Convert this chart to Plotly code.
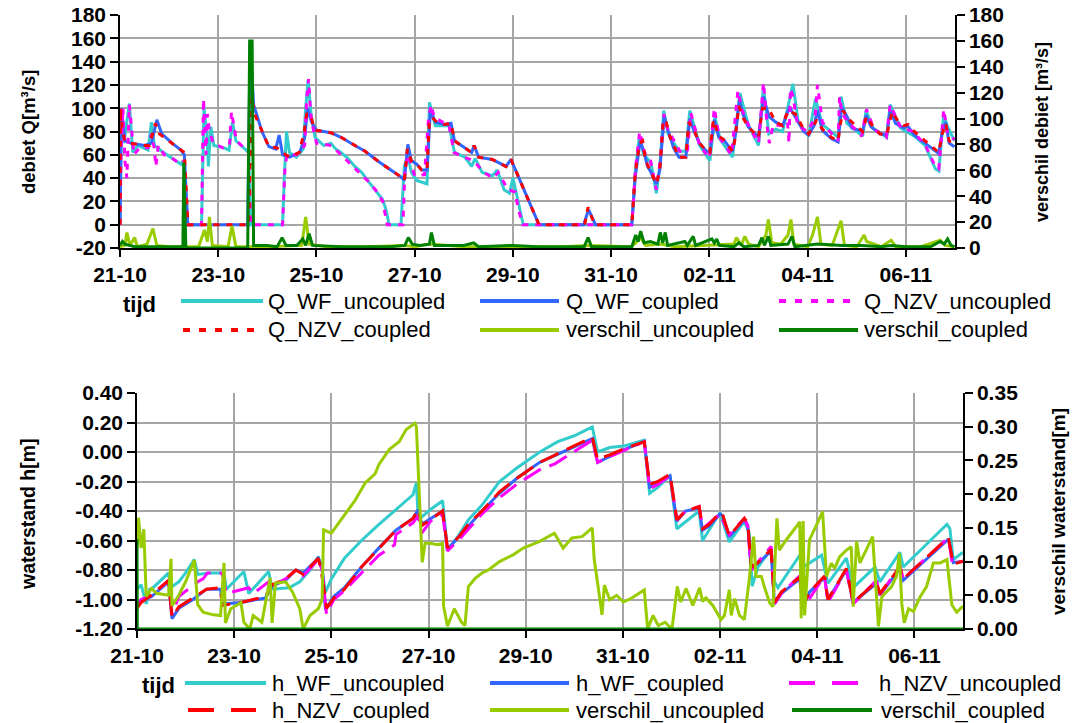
import plotly.graph_objects as go
import pandas as pd

# ---------------- data (day offset from 21-10, value) ----------------
START = "2008-10-21"
END_DAYS = 17

# top panel: discharge Q [m3/s] (left axis) and difference (right axis)
q_wf_uncoupled = [(0,0),(0.03,90),(0.08,70),(0.19,104),(0.26,62),(0.36,68),(0.57,64),(0.64,88),(0.7,68),(0.85,63),(1.06,57),(1.24,52),(1.29,55),(1.35,20),(1.38,0),(1.66,0),(1.71,100),(1.77,78),(1.8,50),(1.85,84),(1.91,68),(2.12,66),(2.22,64),(2.29,88),(2.36,72),(2.54,65),(2.62,62),(2.66,0),(3.31,0),(3.35,45),(3.39,80),(3.45,62),(3.59,58),(3.73,65),(3.78,100),(3.83,124),(3.89,95),(3.97,75),(4.15,68),(4.29,70),(4.39,65),(4.5,62),(4.64,57),(4.78,50),(4.92,45),(5.06,37),(5.2,30),(5.34,22),(5.41,14),(5.48,0),(5.72,0),(5.79,50),(5.86,60),(5.93,45),(6.04,38),(6.25,35),(6.3,105),(6.42,85),(6.7,85),(6.81,62),(7.02,58),(7.16,50),(7.23,57),(7.37,45),(7.58,42),(7.68,47),(7.82,30),(7.93,27),(8.0,40),(8.11,20),(8.21,0),(10.42,0),(10.49,45),(10.57,74),(10.67,60),(10.81,53),(10.92,27),(10.99,50),(11.07,98),(11.16,78),(11.38,63),(11.52,63),(11.6,98),(11.8,68),(12.01,55),(12.11,93),(12.22,73),(12.47,58),(12.62,113),(12.79,86),(13.0,68),(13.1,118),(13.21,78),(13.35,82),(13.49,80),(13.7,121),(13.81,88),(14.02,76),(14.16,108),(14.3,86),(14.62,75),(14.68,110),(14.8,87),(15.12,76),(15.19,98),(15.33,83),(15.61,75),(15.68,103),(15.89,83),(16.17,76),(16.39,68),(16.6,48),(16.67,46),(16.77,95),(16.84,85),(16.99,72)]

q_wf_coupled = [(0,0),(0.03,100),(0.1,72),(0.22,70),(0.5,68),(0.64,70),(0.75,90),(0.85,78),(1.06,70),(1.24,64),(1.31,60),(1.35,30),(1.38,0),(2.6,0),(2.65,157),(2.72,103),(2.89,80),(3.03,67),(3.17,65),(3.24,77),(3.31,60),(3.45,58),(3.66,62),(3.76,75),(3.82,100),(3.9,88),(4.0,81),(4.29,79),(4.5,75),(4.78,68),(4.99,63),(5.27,54),(5.55,46),(5.72,41),(5.79,38),(5.86,69),(5.93,55),(6.04,52),(6.14,47),(6.25,47),(6.32,98),(6.42,88),(6.6,86),(6.74,87),(6.81,72),(6.98,67),(7.16,62),(7.21,68),(7.3,58),(7.58,56),(7.86,50),(7.96,56),(8.07,45),(8.25,27),(8.39,14),(8.53,0),(9.44,0),(9.54,13),(9.68,0),(10.42,0),(10.49,41),(10.59,72),(10.67,62),(10.74,50),(10.81,45),(10.92,35),(10.99,47),(11.08,93),(11.16,81),(11.27,66),(11.38,58),(11.52,58),(11.6,91),(11.69,80),(11.8,70),(11.94,63),(12.01,62),(12.1,90),(12.19,75),(12.29,73),(12.47,63),(12.54,80),(12.61,107),(12.68,95),(12.79,84),(13.0,75),(13.1,110),(13.21,93),(13.35,88),(13.49,85),(13.63,101),(13.74,93),(13.92,80),(14.02,77),(14.13,85),(14.2,98),(14.3,81),(14.48,74),(14.62,71),(14.69,101),(14.8,93),(14.9,83),(15.12,80),(15.19,94),(15.29,84),(15.47,78),(15.61,77),(15.68,98),(15.79,87),(15.96,83),(16.03,85),(16.17,77),(16.39,70),(16.6,63),(16.67,61),(16.74,80),(16.81,88),(16.88,70),(16.99,67)]

q_nzv_uncoupled = [(0,0),(0.02,60),(0.06,100),(0.1,55),(0.14,40),(0.19,103),(0.22,90),(0.28,60),(0.4,66),(0.57,66),(0.64,78),(0.7,65),(0.73,50),(0.78,68),(0.9,60),(1.06,57),(1.24,52),(1.3,55),(1.36,15),(1.38,0),(1.66,0),(1.7,108),(1.75,60),(1.78,95),(1.82,80),(1.9,70),(2.1,66),(2.23,68),(2.27,97),(2.33,82),(2.37,72),(2.55,65),(2.62,62),(2.66,0),(3.31,0),(3.36,50),(3.4,60),(3.6,60),(3.76,68),(3.8,107),(3.84,125),(3.88,96),(3.92,85),(4.0,70),(4.3,68),(4.5,60),(4.8,48),(5.06,37),(5.2,30),(5.35,20),(5.44,0),(5.76,0),(5.8,45),(5.86,60),(6.0,42),(6.2,43),(6.28,90),(6.33,103),(6.4,92),(6.7,85),(6.8,62),(7.0,58),(7.2,55),(7.4,45),(7.6,40),(7.7,45),(7.9,30),(8.05,28),(8.1,15),(8.2,0),(10.42,0),(10.5,50),(10.58,80),(10.68,62),(10.8,55),(10.92,30),(11.0,55),(11.07,95),(11.15,82),(11.4,63),(11.55,62),(11.62,96),(11.8,68),(12.0,57),(12.1,100),(12.2,75),(12.45,60),(12.58,115),(12.67,98),(12.8,85),(13.0,70),(13.1,122),(13.18,83),(13.22,70),(13.3,86),(13.45,85),(13.58,95),(13.62,70),(13.65,117),(13.7,110),(13.8,85),(14.0,80),(14.15,92),(14.2,120),(14.3,88),(14.45,80),(14.62,72),(14.65,110),(14.7,95),(14.85,87),(15.1,76),(15.2,99),(15.35,82),(15.6,75),(15.68,103),(15.9,83),(16.15,80),(16.4,68),(16.6,50),(16.67,48),(16.77,99),(16.85,78),(16.99,73)]

q_nzv_coupled = [(0,0),(0.01,100),(0.05,80),(0.1,72),(0.22,70),(0.5,68),(0.6,68),(0.72,87),(0.8,78),(1.06,70),(1.24,64),(1.31,62),(1.36,20),(1.38,0),(2.62,0),(2.68,110),(2.74,95),(2.9,80),(3.03,67),(3.2,66),(3.3,62),(3.45,58),(3.65,62),(3.75,80),(3.8,95),(3.88,95),(3.95,82),(4.0,81),(4.29,79),(4.5,75),(4.78,68),(4.99,63),(5.27,54),(5.55,46),(5.72,41),(5.79,38),(5.85,65),(5.93,55),(6.04,52),(6.14,47),(6.25,47),(6.3,90),(6.36,92),(6.45,88),(6.6,86),(6.74,87),(6.81,72),(6.98,67),(7.16,62),(7.21,68),(7.3,58),(7.58,56),(7.86,50),(7.96,56),(8.07,45),(8.25,27),(8.39,14),(8.53,0),(9.46,0),(9.53,15),(9.66,0),(10.42,0),(10.49,45),(10.58,70),(10.64,72),(10.7,55),(10.81,45),(10.92,35),(10.99,47),(11.06,90),(11.12,88),(11.2,75),(11.38,58),(11.52,58),(11.58,88),(11.7,80),(11.8,70),(11.94,63),(12.01,62),(12.08,90),(12.19,76),(12.29,73),(12.47,63),(12.52,73),(12.6,102),(12.68,92),(12.79,84),(13.0,75),(13.08,100),(13.2,100),(13.35,88),(13.49,85),(13.6,98),(13.75,95),(13.92,82),(14.02,78),(14.13,85),(14.18,90),(14.3,82),(14.48,75),(14.62,72),(14.66,85),(14.72,98),(14.85,90),(15.12,80),(15.2,93),(15.3,86),(15.47,78),(15.61,77),(15.66,85),(15.72,97),(15.85,88),(15.96,85),(16.05,86),(16.17,80),(16.39,72),(16.6,65),(16.67,62),(16.74,78),(16.81,87),(16.88,72),(16.99,68)]

q_verschil_uncoupled = [(0,1),(0.1,2),(0.14,12),(0.2,2),(0.3,8),(0.35,1),(0.55,3),(0.67,15),(0.75,2),(1.0,1),(1.3,1),(1.6,1),(1.72,14),(1.78,5),(1.82,24),(1.88,2),(2.2,1),(2.28,17),(2.36,1),(2.7,1),(3.0,1),(3.7,2),(3.78,24),(3.85,3),(4.2,1),(5.0,1),(5.8,2),(6.0,1),(6.3,3),(7.0,1),(8.0,1),(9.0,1),(9.55,2),(10.4,1),(10.5,4),(10.6,8),(10.7,2),(11.0,3),(11.3,1),(12.0,2),(12.5,3),(12.55,8),(12.65,2),(12.72,9),(12.8,3),(13.0,1),(13.15,10),(13.2,22),(13.27,4),(13.45,3),(13.6,10),(13.66,22),(13.72,3),(14.0,1),(14.1,10),(14.2,24),(14.27,3),(14.5,2),(14.68,21),(14.75,2),(15.0,1),(15.15,10),(15.2,5),(15.5,1),(15.7,6),(15.8,1),(16.3,1),(16.7,6),(16.8,2),(16.99,1)]

q_verschil_coupled = [(0,2),(0.05,5),(0.1,3),(0.3,1),(0.7,1),(1.28,1),(1.3,66),(1.34,1),(1.36,0),(2.6,0),(2.64,160),(2.69,160),(2.72,2),(3.0,2),(3.2,1),(3.3,8),(3.38,2),(3.6,2),(3.72,7),(3.78,2),(3.85,11),(3.92,2),(4.5,1),(5.0,1),(5.5,1),(5.8,2),(5.87,8),(5.95,3),(6.1,2),(6.3,3),(6.34,12),(6.4,2),(7.0,2),(7.2,4),(7.3,1),(8.0,2),(8.5,1),(9.0,1),(9.45,1),(9.53,8),(9.6,1),(10.42,1),(10.5,10),(10.55,5),(10.6,13),(10.67,4),(10.8,5),(10.95,3),(11.0,12),(11.05,4),(11.1,12),(11.15,2),(11.5,5),(11.55,2),(11.67,9),(11.72,2),(12.05,7),(12.1,4),(12.15,7),(12.2,2),(12.5,1),(12.6,4),(12.7,1),(13.0,2),(13.07,8),(13.12,2),(13.2,9),(13.25,2),(13.6,3),(13.68,9),(13.74,1),(14.2,3),(14.7,2),(15.1,2),(15.5,1),(15.7,2),(16.0,1),(16.5,1),(16.7,5),(16.78,3),(16.85,7),(16.92,2),(16.99,1)]

# bottom panel: water level h [m] (left axis) and difference (right axis)
h_wf_uncoupled = [(0,-0.93),(0.085,-0.90),(0.19,-1.03),(0.26,-0.93),(0.3,-0.93),(0.65,-0.82),(0.69,-0.92),(0.86,-0.88),(1.0,-0.82),(1.18,-0.73),(1.25,-0.83),(1.5,-0.82),(1.79,-0.82),(1.84,-0.93),(2.2,-0.81),(2.3,-0.96),(2.71,-0.81),(2.78,-0.93),(3.13,-0.92),(3.35,-0.88),(3.56,-0.80),(3.73,-0.71),(3.81,-0.80),(3.88,-0.95),(4.0,-0.86),(4.27,-0.72),(4.62,-0.60),(4.98,-0.49),(5.33,-0.39),(5.68,-0.29),(5.75,-0.21),(5.79,-0.46),(6.04,-0.39),(6.29,-0.33),(6.39,-0.67),(6.61,-0.57),(6.82,-0.46),(7.1,-0.36),(7.46,-0.20),(7.81,-0.11),(8.29,0.0),(8.66,0.07),(9.0,0.11),(9.37,0.17),(9.48,0.0),(9.73,0.03),(10.01,0.04),(10.44,0.08),(10.55,-0.28),(10.72,-0.24),(10.97,-0.16),(11.11,-0.52),(11.57,-0.40),(11.64,-0.60),(12.0,-0.41),(12.19,-0.61),(12.5,-0.47),(12.6,-0.55),(12.66,-0.91),(12.78,-0.78),(13.05,-0.66),(13.12,-0.88),(13.19,-0.92),(13.64,-0.70),(13.71,-0.78),(14.09,-0.70),(14.22,-0.89),(14.6,-0.72),(14.74,-0.92),(15.19,-0.78),(15.29,-0.88),(15.7,-0.68),(15.77,-0.78),(16.67,-0.49),(16.73,-0.52),(16.8,-0.73),(17.0,-0.68)]

h_wf_coupled = [(0,-1.03),(0.085,-1.01),(0.3,-0.98),(0.65,-0.88),(0.72,-1.13),(0.86,-1.06),(1.15,-1.0),(1.43,-0.93),(1.72,-0.93),(1.75,-1.03),(2.14,-1.02),(2.64,-0.99),(2.78,-0.91),(3.06,-0.87),(3.27,-0.80),(3.42,-0.82),(3.73,-0.72),(3.81,-0.78),(3.88,-1.07),(4.05,-0.98),(4.27,-0.92),(4.62,-0.78),(4.98,-0.65),(5.33,-0.53),(5.68,-0.45),(5.79,-0.39),(5.86,-0.49),(6.04,-0.45),(6.29,-0.40),(6.39,-0.66),(6.61,-0.58),(6.82,-0.50),(7.1,-0.40),(7.46,-0.28),(7.81,-0.18),(8.29,-0.07),(9.37,0.09),(9.48,-0.07),(9.73,-0.03),(10.01,0.015),(10.44,0.07),(10.55,-0.24),(10.72,-0.21),(10.97,-0.16),(11.11,-0.47),(11.29,-0.40),(11.57,-0.38),(11.64,-0.53),(11.78,-0.50),(12.0,-0.42),(12.05,-0.43),(12.19,-0.575),(12.5,-0.46),(12.57,-0.50),(12.64,-0.79),(12.78,-0.755),(13.05,-0.67),(13.12,-1.03),(13.26,-0.96),(13.64,-0.86),(13.71,-1.05),(13.84,-0.95),(14.15,-0.85),(14.22,-1.00),(14.6,-0.80),(14.74,-1.02),(15.22,-0.89),(15.29,-0.97),(15.7,-0.79),(15.77,-0.87),(16.7,-0.59),(16.8,-0.75),(17.0,-0.74)]

h_nzv_uncoupled = [(0,-1.05),(0.085,-1.0),(0.3,-0.97),(0.65,-0.87),(0.72,-1.10),(0.86,-0.98),(1.25,-0.88),(1.36,-0.86),(1.45,-0.82),(1.72,-0.82),(1.76,-0.83),(1.84,-0.96),(2.3,-0.92),(2.39,-0.96),(2.71,-0.88),(2.78,-0.91),(3.06,-0.86),(3.27,-0.80),(3.42,-0.84),(3.73,-0.73),(3.81,-0.80),(3.9,-1.10),(4.05,-1.0),(4.27,-0.94),(4.62,-0.82),(4.98,-0.70),(5.3,-0.63),(5.33,-0.56),(5.68,-0.48),(5.79,-0.43),(5.86,-0.55),(6.04,-0.47),(6.29,-0.42),(6.39,-0.67),(6.61,-0.60),(6.82,-0.52),(7.1,-0.42),(7.46,-0.31),(7.81,-0.22),(8.29,-0.12),(8.6,-0.08),(9.37,0.08),(9.48,-0.07),(10.01,0.01),(10.44,0.07),(10.55,-0.25),(10.72,-0.22),(10.97,-0.16),(11.11,-0.46),(11.29,-0.40),(11.57,-0.37),(11.64,-0.52),(12.0,-0.42),(12.19,-0.56),(12.5,-0.45),(12.57,-0.50),(12.64,-0.80),(13.05,-0.64),(13.12,-1.03),(13.26,-0.96),(13.64,-0.84),(13.71,-1.06),(14.15,-0.84),(14.22,-1.02),(14.6,-0.80),(14.74,-1.03),(15.22,-0.87),(15.29,-0.97),(15.7,-0.77),(15.77,-0.86),(16.7,-0.58),(16.78,-0.76),(17.0,-0.74)]

h_nzv_coupled = [(0,-1.06),(0.085,-1.02),(0.3,-0.97),(0.65,-0.87),(0.72,-1.12),(0.86,-1.05),(1.15,-0.99),(1.43,-0.93),(1.72,-0.92),(1.75,-1.04),(2.14,-1.02),(2.64,-0.98),(2.78,-0.90),(3.06,-0.86),(3.27,-0.80),(3.42,-0.83),(3.73,-0.72),(3.78,-0.79),(3.86,-0.95),(3.9,-1.06),(4.05,-0.99),(4.27,-0.93),(4.62,-0.78),(4.98,-0.65),(5.33,-0.53),(5.68,-0.45),(5.79,-0.39),(5.86,-0.50),(6.04,-0.46),(6.29,-0.40),(6.39,-0.65),(6.61,-0.58),(6.82,-0.49),(7.1,-0.40),(7.46,-0.27),(7.81,-0.18),(8.29,-0.07),(9.37,0.10),(9.48,-0.05),(9.73,-0.02),(10.01,0.02),(10.44,0.07),(10.55,-0.22),(10.72,-0.20),(10.97,-0.15),(11.11,-0.46),(11.29,-0.40),(11.57,-0.37),(11.64,-0.52),(11.78,-0.49),(12.0,-0.41),(12.05,-0.42),(12.19,-0.57),(12.5,-0.45),(12.57,-0.48),(12.64,-0.78),(12.78,-0.75),(13.05,-0.66),(13.12,-1.02),(13.26,-0.95),(13.64,-0.85),(13.71,-1.04),(13.84,-0.95),(14.15,-0.84),(14.22,-1.00),(14.6,-0.79),(14.74,-1.02),(15.22,-0.88),(15.29,-0.96),(15.7,-0.78),(15.77,-0.86),(16.7,-0.58),(16.8,-0.76),(17.0,-0.74)]

h_verschil_uncoupled = [(0,0.12),(0.03,0.165),(0.085,0.12),(0.14,0.148),(0.19,0.048),(0.3,0.06),(0.4,0.053),(0.65,0.05),(0.7,0.104),(0.72,0.034),(0.86,0.05),(1.0,0.07),(1.18,0.102),(1.25,0.036),(1.36,0.025),(1.57,0.021),(1.72,0.02),(1.79,0.098),(1.82,0.009),(1.93,0.03),(2.14,0.039),(2.2,0.01),(2.32,0.0),(2.39,0.02),(2.57,0.01),(2.74,0.076),(2.78,0.009),(2.85,0.068),(3.06,0.07),(3.2,0.055),(3.35,0.03),(3.42,0.0),(3.56,0.02),(3.73,0.03),(3.81,0.044),(3.84,0.147),(4.0,0.142),(4.27,0.17),(4.48,0.19),(4.7,0.217),(4.9,0.23),(4.98,0.244),(5.19,0.266),(5.4,0.278),(5.54,0.296),(5.72,0.305),(5.75,0.30),(5.87,0.099),(5.93,0.127),(6.04,0.127),(6.18,0.125),(6.29,0.127),(6.31,0.034),(6.39,0.004),(6.53,0.03),(6.68,0.01),(6.75,0.005),(6.82,0.063),(6.96,0.075),(7.1,0.083),(7.24,0.088),(7.46,0.10),(7.74,0.11),(7.95,0.12),(8.29,0.13),(8.59,0.142),(8.77,0.12),(8.95,0.135),(9.16,0.137),(9.37,0.15),(9.41,0.103),(9.48,0.068),(9.57,0.021),(9.62,0.065),(9.73,0.0435),(9.87,0.05),(10.01,0.04),(10.16,0.045),(10.44,0.058),(10.51,0.0),(10.62,0.02),(10.73,0.005),(10.87,0.01),(11.01,0.0),(11.12,0.063),(11.19,0.04),(11.3,0.06),(11.44,0.035),(11.58,0.061),(11.64,0.041),(11.71,0.046),(11.85,0.035),(12.02,0.014),(12.09,0.02),(12.19,0.058),(12.23,0.02),(12.3,0.045),(12.4,0.02),(12.5,0.014),(12.6,0.073),(12.69,0.137),(12.74,0.078),(12.85,0.078),(12.91,0.063),(13.02,0.039),(13.09,0.033),(13.17,0.164),(13.22,0.117),(13.36,0.132),(13.54,0.149),(13.64,0.159),(13.67,0.016),(13.71,0.16),(13.74,0.02),(13.84,0.132),(13.95,0.149),(14.11,0.174),(14.19,0.078),(14.29,0.0975),(14.36,0.09),(14.46,0.107),(14.6,0.117),(14.7,0.122),(14.74,0.033),(14.81,0.13),(14.88,0.098),(15.05,0.122),(15.14,0.137),(15.21,0.059),(15.26,0.004),(15.33,0.048),(15.43,0.055),(15.53,0.063),(15.63,0.078),(15.69,0.112),(15.74,0.038),(15.79,0.009),(15.88,0.03),(15.98,0.026),(16.12,0.048),(16.25,0.063),(16.39,0.098),(16.53,0.098),(16.67,0.103),(16.77,0.036),(16.87,0.025),(16.94,0.03),(17.0,0.034)]

h_verschil_coupled = [(0,0.133),(0.005,0.0),(17.0,0.0)]

# axis tick labels
q_left_ticks = [-20, 0, 20, 40, 60, 80, 100, 120, 140, 160, 180]
q_right_ticks = [0, 20, 40, 60, 80, 100, 120, 140, 160, 180]
h_left_ticks = [-1.2, -1.0, -0.8, -0.6, -0.4, -0.2, 0.0, 0.2, 0.4]
h_left_labels = ["-1.20", "-1.00", "-0.80", "-0.60", "-0.40", "-0.20", "0.00", "0.20", "0.40"]
h_right_ticks = [0.0, 0.05, 0.10, 0.15, 0.20, 0.25, 0.30, 0.35]
h_right_labels = ["0.00", "0.05", "0.10", "0.15", "0.20", "0.25", "0.30", "0.35"]

# ---------------- helpers ----------------
base = pd.Timestamp(START)


def xy(pairs):
    t = [base + pd.Timedelta(days=p[0]) for p in pairs]
    v = [p[1] for p in pairs]
    return t, v


W, H = 1084, 723
def px(x):
    return x / W
def py(y):
    return 1 - y / H

CYAN = "#33CCCC"
BLUE = "#3366FF"
MAGENTA = "#FF00FF"
RED = "#FF0000"
LGREEN = "#99CC00"
DGREEN = "#008000"
DOT = "6px,7px"
DASH = "20px,9px"
LW = 3

FONT = "Liberation Sans, Arial, sans-serif"

fig = go.Figure()

top_series = [
    ("Q_WF_uncoupled", q_wf_uncoupled, CYAN, "solid", "y"),
    ("Q_WF_coupled", q_wf_coupled, BLUE, "solid", "y"),
    ("Q_NZV_uncoupled", q_nzv_uncoupled, MAGENTA, DOT, "y"),
    ("Q_NZV_coupled", q_nzv_coupled, RED, DOT, "y"),
    ("verschil_uncoupled", q_verschil_uncoupled, LGREEN, "solid", "y2"),
    ("verschil_coupled", q_verschil_coupled, DGREEN, "solid", "y2"),
]
bottom_series = [
    ("h_WF_uncoupled", h_wf_uncoupled, CYAN, "solid", "y3"),
    ("h_WF_coupled", h_wf_coupled, BLUE, "solid", "y3"),
    ("h_NZV_uncoupled", h_nzv_uncoupled, MAGENTA, DASH, "y3"),
    ("h_NZV_coupled", h_nzv_coupled, RED, DASH, "y3"),
    ("verschil_uncoupled", h_verschil_uncoupled, LGREEN, "solid", "y4"),
    ("verschil_coupled", h_verschil_coupled, DGREEN, "solid", "y4"),
]

for name, data, col, dash, ya in top_series:
    t, v = xy(data)
    fig.add_trace(go.Scatter(x=t, y=v, mode="lines", name=name, xaxis="x", yaxis=ya,
                             line=dict(color=col, width=LW, dash=dash), showlegend=False))
for name, data, col, dash, ya in bottom_series:
    t, v = xy(data)
    fig.add_trace(go.Scatter(x=t, y=v, mode="lines", name=name, xaxis="x2", yaxis=ya,
                             line=dict(color=col, width=LW, dash=dash), showlegend=False))

TICKFONT = dict(family=FONT, size=21, color="black", weight="bold")
GRID = "#A6A6A6"
xrange = [base, base + pd.Timedelta(days=END_DAYS)]

xcommon = dict(type="date", range=xrange, tick0=base, dtick=2 * 86400000, tickformat="%d-%m",
               showgrid=True, gridcolor=GRID, gridwidth=1.5, showline=True, linecolor="black",
               linewidth=1.5, ticks="outside", ticklen=7, tickwidth=1.5, tickcolor="black",
               tickfont=TICKFONT, zeroline=False, automargin=False, ticklabelstandoff=0)
ycommon = dict(showline=True, linecolor="black", linewidth=1.5, ticks="outside", ticklen=8,
               tickwidth=1.5, tickcolor="black", tickfont=TICKFONT, zeroline=False,
               automargin=False)

top_dom_x = [px(120), px(955)]
top_dom_y = [py(248), py(15)]
bot_dom_x = [px(137), px(963)]
bot_dom_y = [py(629), py(393)]

fig.update_layout(
    width=W, height=H, margin=dict(l=0, r=0, t=0, b=0),
    paper_bgcolor="white", plot_bgcolor="white",
    xaxis=dict(domain=top_dom_x, anchor="y", **xcommon),
    yaxis=dict(domain=top_dom_y, anchor="x", range=[-20, 180], tickvals=q_left_ticks,
               ticktext=[str(v) for v in q_left_ticks], showgrid=True, gridcolor=GRID,
               gridwidth=1.5, **ycommon),
    yaxis2=dict(overlaying="y", side="right", anchor="x", range=[0, 180], tickvals=q_right_ticks,
                ticktext=[str(v) for v in q_right_ticks], showgrid=False, **ycommon),
    yaxis5=dict(overlaying="y", side="right", anchor="x", range=[0, 180], tickvals=q_right_ticks,
                showticklabels=False, showgrid=False, showline=False, ticks="inside", ticklen=8,
                tickwidth=1.5, tickcolor="black", zeroline=False),
    xaxis2=dict(domain=bot_dom_x, anchor="y3", **xcommon),
    yaxis3=dict(domain=bot_dom_y, anchor="x2", range=[-1.2, 0.4], tickvals=h_left_ticks,
                ticktext=h_left_labels, showgrid=True, gridcolor=GRID, gridwidth=1.5, **ycommon),
    yaxis4=dict(overlaying="y3", side="right", anchor="x2", range=[0, 0.35], tickvals=h_right_ticks,
                ticktext=h_right_labels, showgrid=False, **ycommon),
    yaxis6=dict(overlaying="y3", side="right", anchor="x2", range=[0, 0.35], tickvals=h_right_ticks,
                showticklabels=False, showgrid=False, showline=False, ticks="inside", ticklen=8,
                tickwidth=1.5, tickcolor="black", zeroline=False),
)

# axis titles
titles = [
    ("debiet Q[m³/s]", 28, 132, 18.5),
    ("verschil debiet [m³/s]", 1042, 132, 18),
    ("waterstand h[m]", 28, 514, 19.5),
    ("verschil waterstand[m]", 1058, 512, 19),
]
for txt, x, y, s in titles:
    fig.add_annotation(text=txt, x=px(x), y=py(y), xref="paper", yref="paper", showarrow=False,
                       textangle=-90, xanchor="center", yanchor="middle",
                       font=dict(family=FONT, size=s, color="black", weight="bold"))

# x-axis title "tijd" (sits left of legend)
for x, y in [(139, 304), (158, 685)]:
    fig.add_annotation(text="tijd", x=px(x), y=py(y), xref="paper", yref="paper", showarrow=False,
                       xanchor="center", yanchor="middle",
                       font=dict(family=FONT, size=22, color="black", weight="bold"))

# legends (drawn manually to mimic the two-row layout)
LEG_DOT = "7px,9px"
LEG_DASH = "26px,17px"
top_leg = [
    ("Q_WF_uncoupled", CYAN, "solid", 181, 263, 266, 301),
    ("Q_WF_coupled", BLUE, "solid", 480, 559, 564, 301),
    ("Q_NZV_uncoupled", MAGENTA, LEG_DOT, 779, 855, 862, 301),
    ("Q_NZV_coupled", RED, LEG_DOT, 183, 260, 266, 330),
    ("verschil_uncoupled", LGREEN, "solid", 480, 559, 564, 330),
    ("verschil_coupled", DGREEN, "solid", 779, 858, 862, 330),
]
bot_leg = [
    ("h_WF_uncoupled", CYAN, "solid", 185, 266, 270, 683),
    ("h_WF_coupled", BLUE, "solid", 490, 569, 574, 683),
    ("h_NZV_uncoupled", MAGENTA, LEG_DASH, 789, 862, 877, 683),
    ("h_NZV_coupled", RED, LEG_DASH, 188, 256, 270, 710),
    ("verschil_uncoupled", LGREEN, "solid", 490, 569, 574, 710),
    ("verschil_coupled", DGREEN, "solid", 792, 872, 879, 710),
]
for name, col, dash, x0, x1, xt, y in top_leg + bot_leg:
    fig.add_shape(type="line", xref="paper", yref="paper", x0=px(x0), x1=px(x1), y0=py(y), y1=py(y),
                  line=dict(color=col, width=4, dash=dash))
    fig.add_annotation(text=name, x=px(xt), y=py(y), xref="paper", yref="paper", showarrow=False,
                       xanchor="left", yanchor="middle",
                       font=dict(family=FONT, size=22, color="black"))

fig.write_html("out.html", config={"displayModeBar": False},
               post_script="document.body.style.margin='0';")
